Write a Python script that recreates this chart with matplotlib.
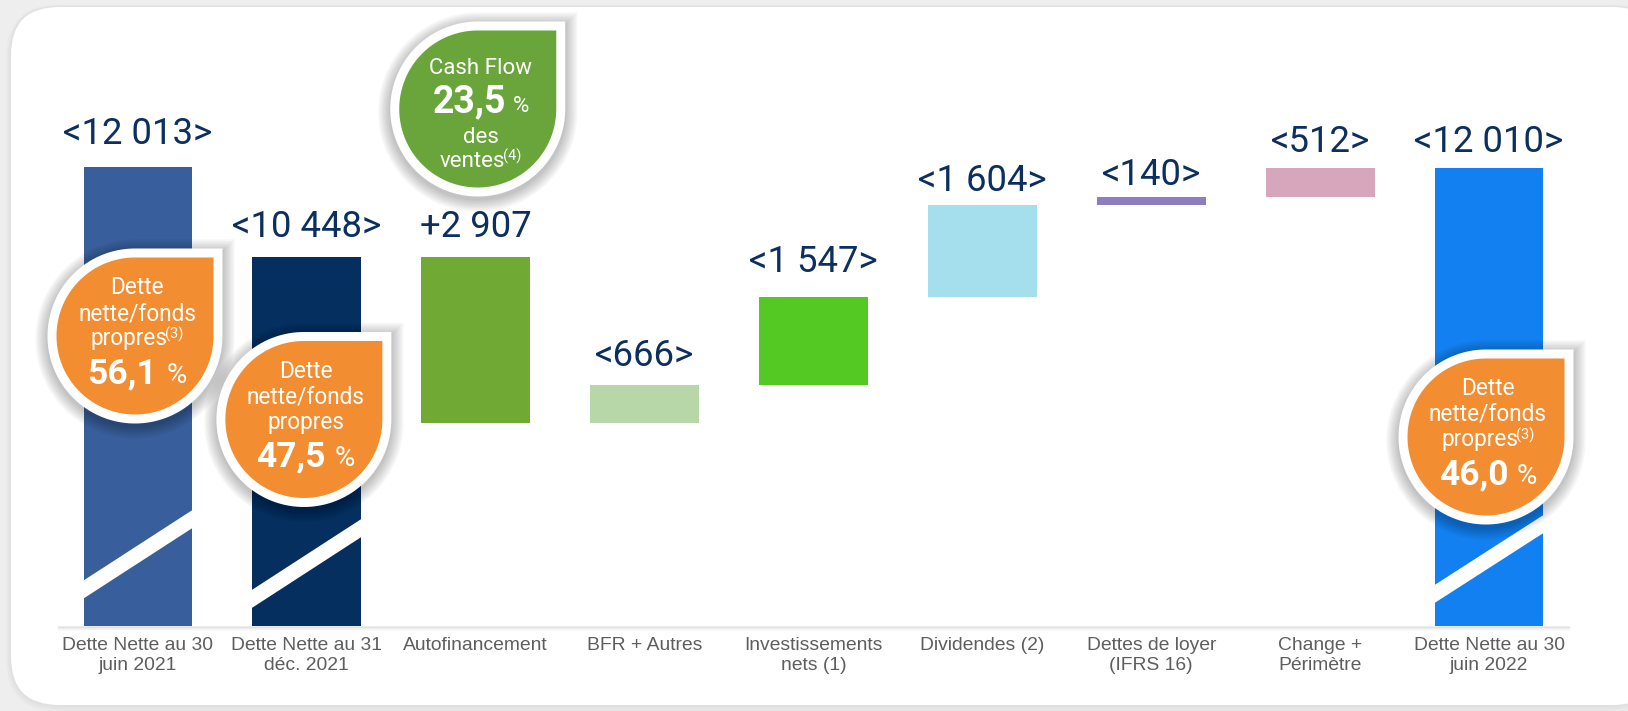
import numpy as np
import matplotlib
matplotlib.use("Agg")
import matplotlib.pyplot as plt
from matplotlib.patches import Polygon, FancyBboxPatch
from matplotlib.transforms import blended_transform_factory

# ---------------- data ----------------
categories = ["Dette Nette au 30\njuin 2021", "Dette Nette au 31\ndéc. 2021",
              "Autofinancement", "BFR + Autres", "Investissements\nnets (1)",
              "Dividendes (2)", "Dettes de loyer\n(IFRS 16)", "Change +\nPérimètre",
              "Dette Nette au 30\njuin 2022"]
opening_debt = 12013          # 30 juin 2021
start_debt = 10448            # 31 déc. 2021
flows = [-2907, 666, 1547, 1604, 140, 512]   # change of net debt per step
closing_debt = 12010          # 30 juin 2022
bar_colors = ["#385e9b", "#042f5e", "#71a935", "#b7d7a8", "#54c923",
              "#a5dfee", "#8c7ec0", "#d6a6bd", "#1280f0"]
ratio_values = ["56,1", "47,5", "46,0"]      # dette nette / fonds propres
ratio_notes = ["(3)", "", "(3)"]
ratio_bars = [0, 1, 8]
cash_flow_pct = "23,5"
cash_flow_note = "(4)"

# ---------------- style ----------------
W, H = 1628, 711
NAVY = "#0b2f5e"
ORANGE = "#f38d31"
GREEN_BADGE = "#6aa53b"
BASE = 4000                      # broken axis base value
AX_BOTTOM_PX, AX_TOP_PX = 626, 30
UNITS_PER_PX = (start_debt - BASE) / (AX_BOTTOM_PX - 257)
ymax = BASE + (AX_BOTTOM_PX - AX_TOP_PX) * UNITS_PER_PX

fig = plt.figure(figsize=(W / 100, H / 100), dpi=100)
fig.patch.set_facecolor("#eeeeee")

# background card
ax_bg = fig.add_axes([0, 0, 1, 1], zorder=0)
ax_bg.set_xlim(0, W); ax_bg.set_ylim(H, 0); ax_bg.axis("off")
for k in range(6):
    ax_bg.add_patch(FancyBboxPatch((11 - k, 7 - k * 0.5), 1650 + 2 * k, 698 + 2 * k,
                                   boxstyle="round,pad=0,rounding_size=%d" % (48 + k),
                                   fc="black", ec="none", alpha=0.012))
ax_bg.add_patch(FancyBboxPatch((11, 7), 1650, 698, boxstyle="round,pad=0,rounding_size=48",
                               fc="white", ec="none"))
# soft shadow under baseline
for k, a in enumerate([0.22, 0.14, 0.08, 0.04]):
    ax_bg.plot([58, 1570], [AX_BOTTOM_PX + 1 + k, AX_BOTTOM_PX + 1 + k], color="#9a9a9a",
               alpha=a, lw=1.2, solid_capstyle="butt")

# main axes
left_px = 138 - 168.875 / 2
ax = fig.add_axes([left_px / W, (H - AX_BOTTOM_PX) / H, 168.875 * 9 / W,
                   (AX_BOTTOM_PX - AX_TOP_PX) / H], zorder=1)
ax.set_facecolor("none")
ax.set_xlim(-0.5, 8.5)
ax.set_ylim(BASE, ymax)
for s in ax.spines.values():
    s.set_visible(False)
ax.set_yticks([])

levels = start_debt + np.cumsum(flows)
prev = np.concatenate([[start_debt], levels[:-1]])
bottoms = [BASE, BASE] + list(np.minimum(prev, levels)) + [BASE]
tops = [opening_debt, start_debt] + list(np.maximum(prev, levels)) + [closing_debt]
heights = np.array(tops) - np.array(bottoms)
x = np.arange(len(categories))
BW = 0.645
ax.bar(x, heights, bottom=bottoms, width=BW, color=bar_colors, zorder=2)


def fmt(v):
    return "{:,}".format(abs(int(v))).replace(",", " ")


labels = ["<%s>" % fmt(opening_debt), "<%s>" % fmt(start_debt)]
labels += [("+%s" % fmt(f)) if f < 0 else ("<%s>" % fmt(f)) for f in flows]
labels += ["<%s>" % fmt(closing_debt)]
label_gap_px = [23, 20, 20, 19, 25, 14, 12, 16, 16]
for xi, t, lab, g in zip(x, tops, labels, label_gap_px):
    ax.annotate(lab, (xi, t), xytext=(0, g * 0.72), textcoords="offset points",
                ha="center", va="baseline", fontsize=26.3, color=NAVY, family="Roboto")

ax.set_xticks(x)
ax.set_xticklabels(categories, fontsize=13.9, color="#5e5e5e", family="Liberation Sans",
                   linespacing=1.2)
ax.tick_params(axis="x", length=0, pad=8)

# axis break stripes (white diagonal) on total bars
trans = blended_transform_factory(ax.transData, ax.transAxes)
AXH = AX_BOTTOM_PX - AX_TOP_PX
break_left = [45.5, 36.4, 41.0]
break_right = [116.0, 107.0, 111.0]
for i, l, r in zip(ratio_bars, break_left, break_right):
    ext = 0.02
    slope = (r - l) / BW
    xl, xr = i - BW / 2 - ext, i + BW / 2 + ext
    ul, ur = l - slope * ext, r + slope * ext
    poly = [(xl, ul / AXH), (xr, ur / AXH), (xr, (ur - 18) / AXH), (xl, (ul - 18) / AXH)]
    ax.add_patch(Polygon(poly, closed=True, transform=trans, fc="white", ec="none", zorder=3))

# overlay for badges
ax_ov = fig.add_axes([0, 0, 1, 1], zorder=3)
ax_ov.set_xlim(0, W); ax_ov.set_ylim(H, 0); ax_ov.axis("off")
ax_ov.set_facecolor("none")
renderer = fig.canvas.get_renderer()


def leaf(cx, cy, r, n=160):
    th = np.linspace(np.pi / 2, 2 * np.pi, n)
    pts = np.column_stack([cx + r * np.cos(th), cy - r * np.sin(th)])
    return np.vstack([pts, [cx + r, cy - r]])


def badge(cx, cy, r, color):
    for k in range(8):
        ax_ov.add_patch(Polygon(leaf(cx, cy + 3, r + 10 + k * 1.6), closed=True,
                                fc="black", ec="none", alpha=0.03))
    ax_ov.add_patch(Polygon(leaf(cx, cy, r + 9), closed=True, fc="white", ec="none"))
    ax_ov.add_patch(Polygon(leaf(cx, cy, r), closed=True, fc=color, ec="none"))


def two_part(cx, y, big, small, big_size, small_size, gap=9, bold=True, rise=0):
    t1 = ax_ov.text(cx, y, big, fontsize=big_size, fontweight="bold" if bold else "normal",
                    color="white", ha="left", va="baseline", family="Roboto")
    t2 = ax_ov.text(cx, y - rise, small, fontsize=small_size, color="white",
                    ha="left", va="baseline", family="Roboto")
    w1 = t1.get_window_extent(renderer).width
    w2 = t2.get_window_extent(renderer).width
    x0 = cx - (w1 + gap + w2) / 2
    t1.set_x(x0)
    t2.set_x(x0 + w1 + gap)


bar_px = [ax.transData.transform((i, BASE))[0] for i in x]

badge_cy = [336, 419.5, 437]
for i, cy, val, note in zip(ratio_bars, badge_cy, ratio_values, ratio_notes):
    cx = bar_px[i] - 3
    badge(cx, cy, 78.5, ORANGE)
    tx = cx + 2
    kw = dict(fontsize=16.3, color="white", ha="center", va="baseline", family="Roboto")
    ax_ov.text(tx, cy - 42, "Dette", **kw)
    ax_ov.text(tx, cy - 16, "nette/fonds", **kw)
    if note:
        two_part(tx, cy + 9, "propres", note, 16.3, 10.5, gap=-2, bold=False, rise=6)
    else:
        ax_ov.text(tx, cy + 9, "propres", **kw)
    two_part(tx, cy + 47, val, "%", 25.5, 20)

# cash flow badge on Autofinancement
cx, cy = bar_px[2] + 2, 109
badge(cx, cy, 78.5, GREEN_BADGE)
kw = dict(fontsize=16, color="white", ha="center", va="baseline", family="Roboto")
ax_ov.text(cx + 3, cy - 35, "Cash Flow", **kw)
two_part(cx + 3, cy + 3, cash_flow_pct, "%", 27, 16, gap=7)
ax_ov.text(cx + 3, cy + 34, "des", **kw)
two_part(cx + 3, cy + 58, "ventes", cash_flow_note, 16, 10.5, gap=-2, bold=False, rise=6)

fig.savefig("out.png", dpi=100, facecolor=fig.get_facecolor())
